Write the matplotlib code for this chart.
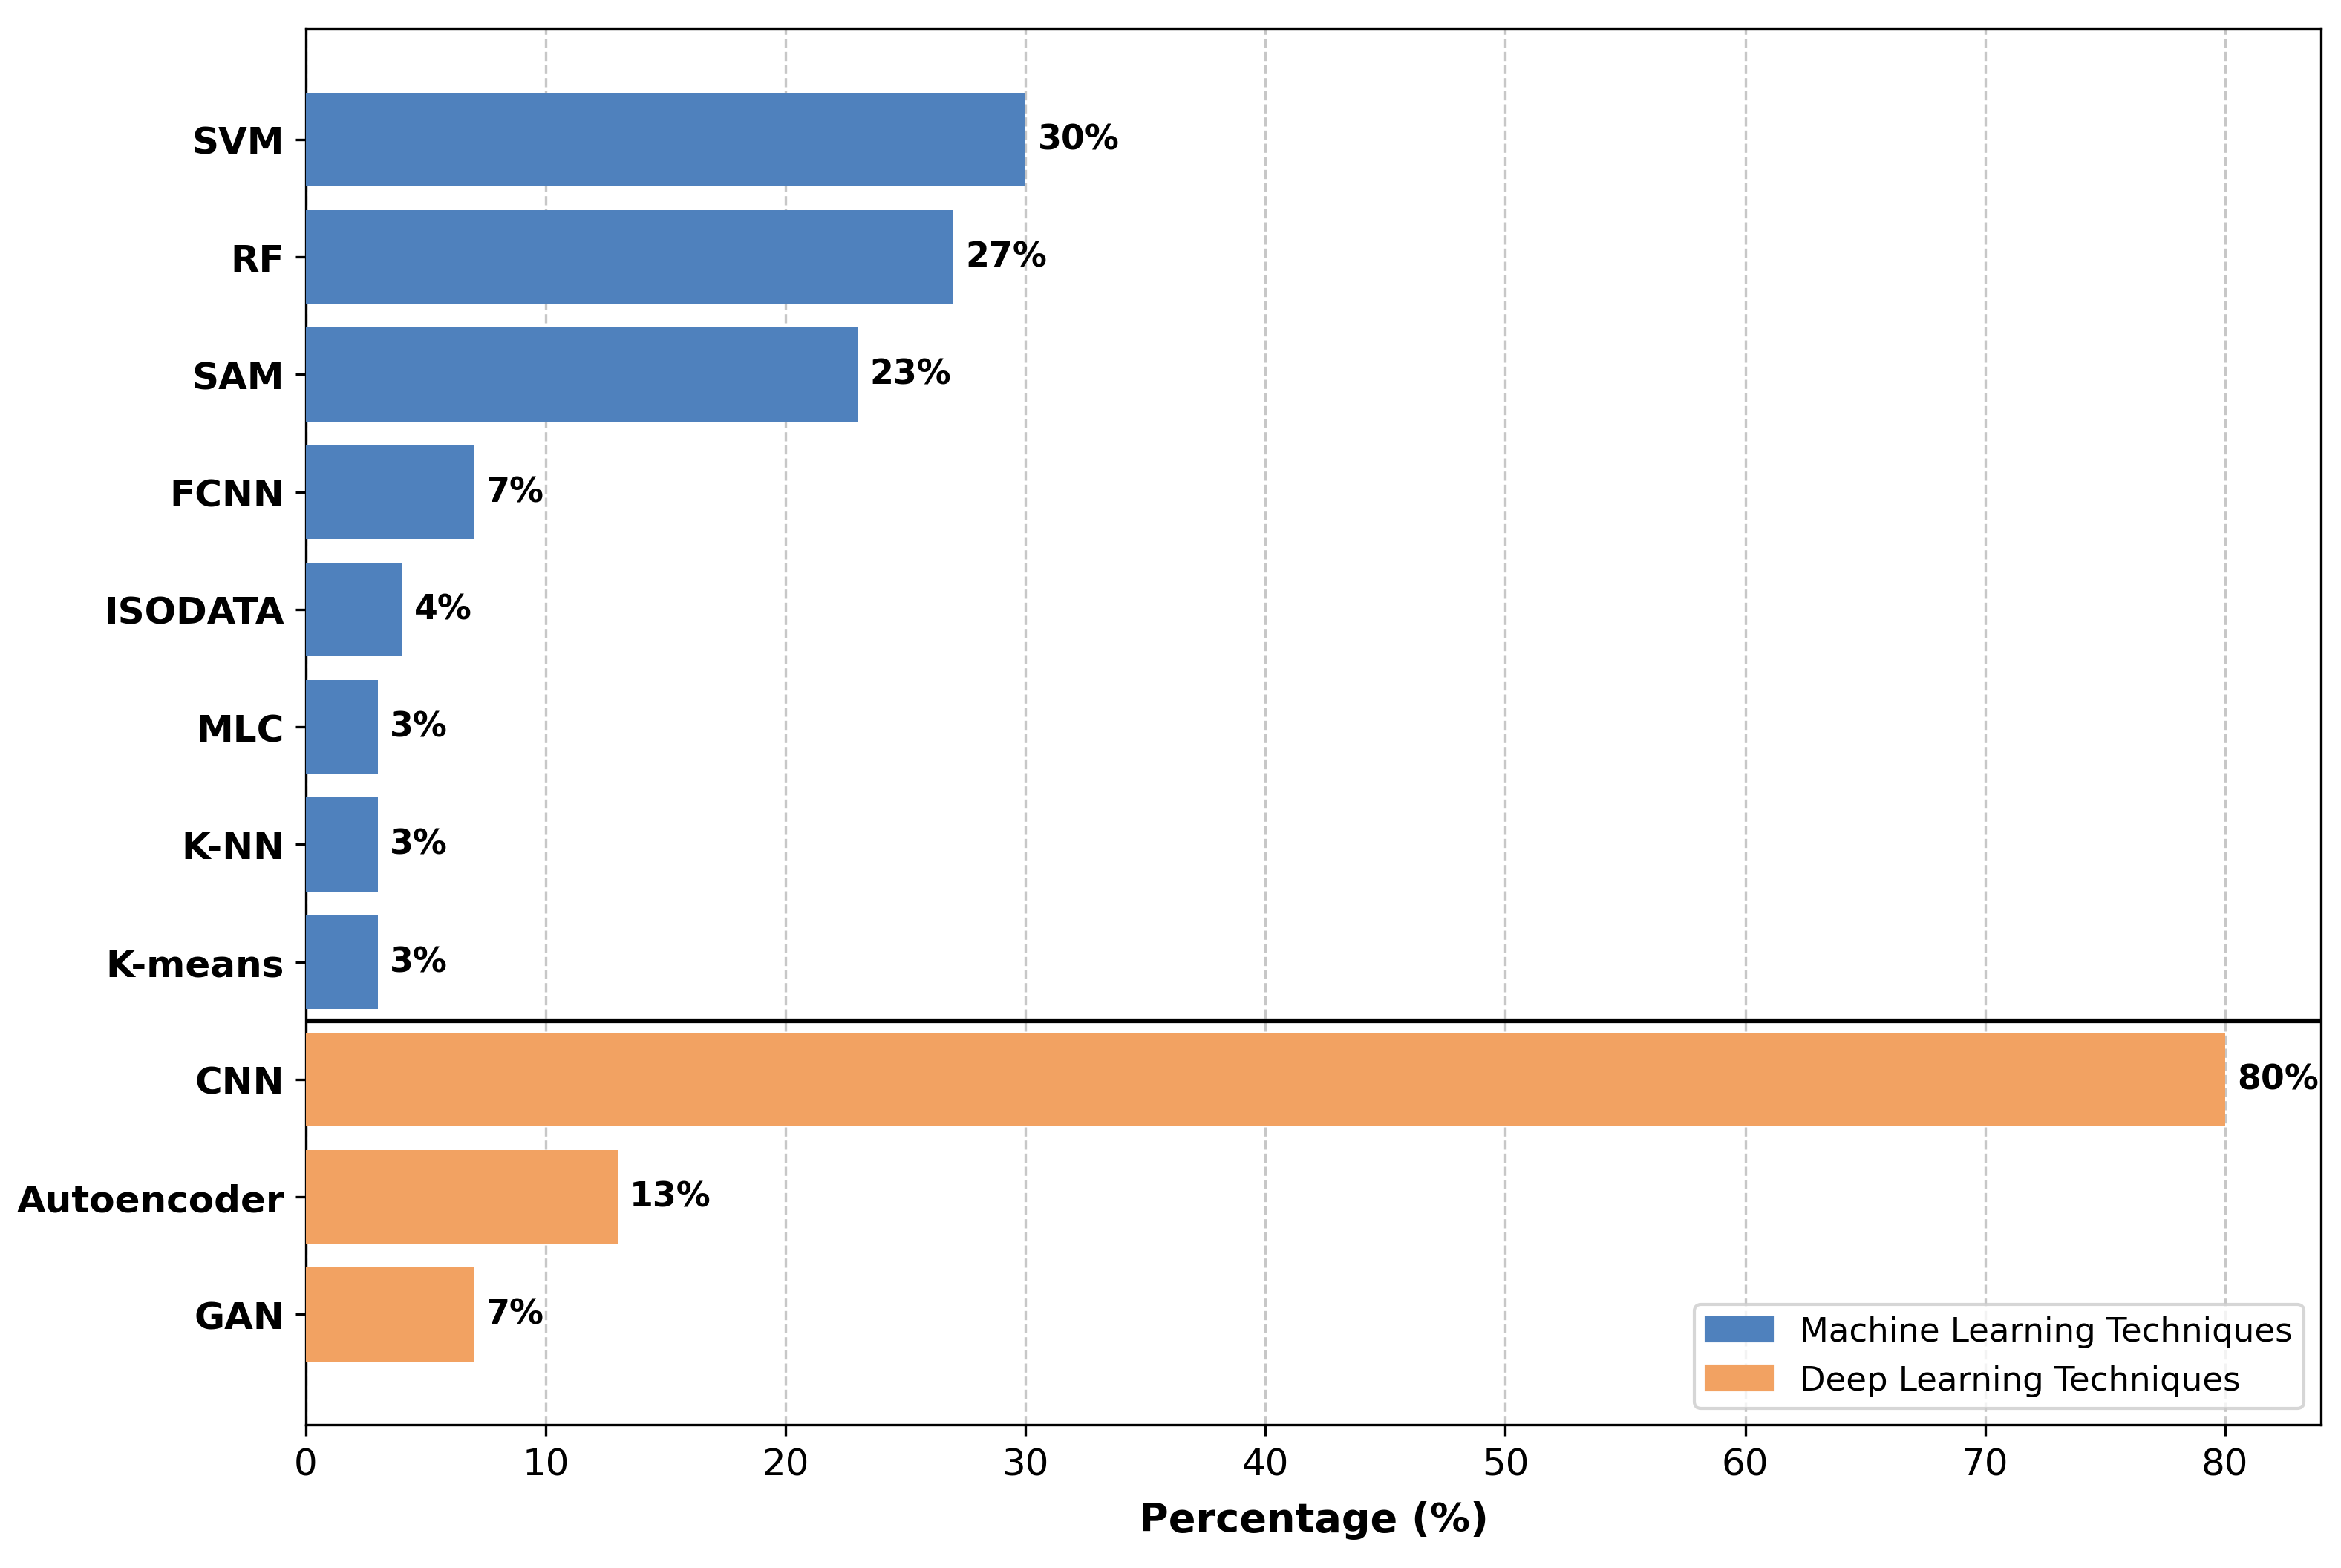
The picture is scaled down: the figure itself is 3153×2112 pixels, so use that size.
import matplotlib
matplotlib.use("Agg")
import matplotlib.pyplot as plt
from matplotlib.patches import Patch

ml_labels = ["SVM", "RF", "SAM", "FCNN", "ISODATA", "MLC", "K-NN", "K-means"]
ml_values = [30, 27, 23, 7, 4, 3, 3, 3]
dl_labels = ["CNN", "Autoencoder", "GAN"]
dl_values = [80, 13, 7]

ml_color = "#4F81BD"
dl_color = "#F2A262"

labels = ml_labels + dl_labels
values = ml_values + dl_values
colors = [ml_color] * len(ml_values) + [dl_color] * len(dl_values)
pos = list(range(len(labels)))

fig = plt.figure(figsize=(10.51, 7.043), dpi=300)
ax = fig.add_axes([0.1307, 0.0913, 0.8607, 0.8897])

ax.barh(pos, values, height=0.8, color=colors, zorder=3)
ax.set_yticks(pos)
ax.set_yticklabels(labels, fontsize=12, fontweight="bold")
ax.invert_yaxis()
ax.tick_params(axis="x", labelsize=12)

for p, v in zip(pos, values):
    ax.text(v + 0.5, p, f"{v}%", va="center", ha="left", fontsize=11, fontweight="bold", zorder=4)

ax.axhline(len(ml_labels) - 0.5, color="black", linewidth=1.5, zorder=4)
ax.grid(axis="x", linestyle="--", alpha=0.7, zorder=0)
ax.set_xlabel("Percentage (%)", fontsize=13, fontweight="bold", labelpad=6)
ax.set_xticks(range(0, 81, 10))

handles = [Patch(color=ml_color, label="Machine Learning Techniques"),
           Patch(color=dl_color, label="Deep Learning Techniques")]
ax.legend(handles=handles, loc="lower right", fontsize=10.8, borderpad=0.35)

fig.savefig("out.png", dpi=300)
